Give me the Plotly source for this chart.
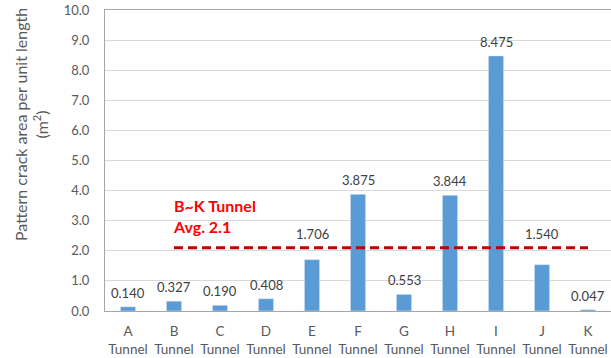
import plotly.graph_objects as go

# Tunnel data
tunnels = ["A", "B", "C", "D", "E", "F", "G", "H", "I", "J", "K"]
crack_area = [0.140, 0.327, 0.190, 0.408, 1.706, 3.875, 0.553, 3.844, 8.475, 1.540, 0.047]
y_ticks = [0, 1, 2, 3, 4, 5, 6, 7, 8, 9, 10]

# labels lifted clear of the average line
label_lift = {"E": 12, "J": 17}

FONT = "Lato"
GRAY = "#595959"

x_pos = list(range(len(tunnels)))
tick_text = [f"{t}<br>Tunnel" for t in tunnels]

# Average of tunnels B through K
bk_values = crack_area[1:]
bk_avg = round(sum(bk_values) / len(bk_values), 1)

fig = go.Figure()
fig.add_trace(go.Bar(
    x=x_pos, y=crack_area, width=0.33,
    marker=dict(color="#5B9BD5"),
    hoverinfo="skip",
))
fig.add_trace(go.Scatter(
    x=[x_pos[1], x_pos[-1]], y=[bk_avg, bk_avg],
    mode="lines",
    line=dict(color="#C00000", width=3, dash="9px,5px"),
    hoverinfo="skip",
))

for xi, t, v in zip(x_pos, tunnels, crack_area):
    fig.add_annotation(
        x=xi, y=v, text=f"{v:.3f}", showarrow=False,
        yanchor="bottom", yshift=4 + label_lift.get(t, 0),
        font=dict(family=FONT, size=13, color="#404040"),
    )

fig.add_annotation(
    x=x_pos[1], y=bk_avg, xanchor="left", yanchor="bottom",
    xshift=-3, yshift=10, align="left", showarrow=False,
    text=f"<b>B~K Tunnel<br>Avg. {bk_avg:.1f}</b>",
    font=dict(family=FONT, size=16, color="#FF0000"),
)

# Y-axis title
fig.add_annotation(
    xref="paper", yref="paper", x=-0.145, y=0.62,
    xanchor="center", yanchor="middle", textangle=-90, showarrow=False,
    text="Pattern crack area per unit length<br>(m<sup>2</sup>)",
    font=dict(family=FONT, size=16, color=GRAY),
)

fig.update_layout(
    width=611, height=358,
    margin=dict(l=105, r=0, t=10, b=47),
    paper_bgcolor="white", plot_bgcolor="white",
    showlegend=False,
    font=dict(family=FONT, color=GRAY),
    xaxis=dict(
        range=[-0.5, len(tunnels) - 0.5],
        tickvals=x_pos, ticktext=tick_text,
        tickfont=dict(family=FONT, size=13.5, color=GRAY),
        showline=True, linecolor="#A6A6A6", linewidth=1, mirror=True,
        showgrid=False, ticks="", ticklabelstandoff=8, fixedrange=True,
    ),
    yaxis=dict(
        range=[0, 10], tickvals=y_ticks,
        ticktext=[f"{v:.1f}" for v in y_ticks],
        tickfont=dict(family=FONT, size=13, color=GRAY),
        showgrid=True, gridcolor="#D9D9D9", gridwidth=1,
        showline=True, linecolor="#A6A6A6", linewidth=1, mirror=True,
        zeroline=False, ticks="", ticklabelstandoff=12,
        fixedrange=True,
    ),
)

fig.write_html("out.html")
